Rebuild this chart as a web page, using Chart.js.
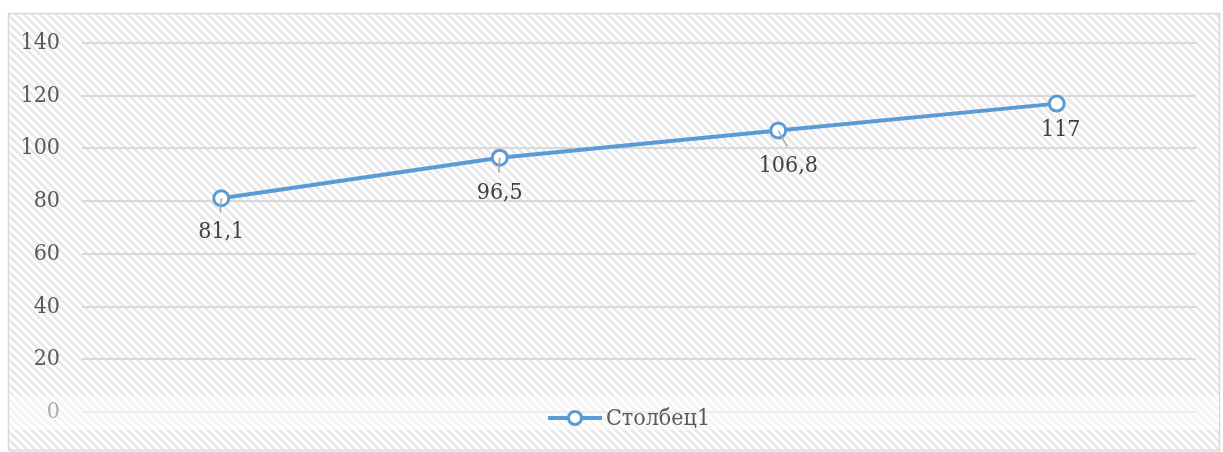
<!DOCTYPE html>
<html>
<head>
<meta charset="utf-8">
<script src="https://cdn.jsdelivr.net/npm/chart.js@4.4.1/dist/chart.umd.min.js"></script>
<style>
    html, body { margin: 0; padding: 0; background: #ffffff; }
    #wrap { width: 1223px; height: 452px; }
</style>
</head>
<body>
<div id="wrap"><canvas id="chart" width="1223" height="452"></canvas></div>
<script>
// Chart data
const categories = ['1', '2', '3', '4'];
const seriesName = 'Столбец1';
const seriesValues = [81.1, 96.5, 106.8, 117];
const valueLabels = ['81,1', '96,5', '106,8', '117'];
const yTicks = [0, 20, 40, 60, 80, 100, 120, 140];

const FONT = "'DejaVu Serif Condensed', 'Liberation Serif', serif";
const lineColor = '#5b9bd5';
const textColor = '#595959';

// label placement relative to the point (dx, dy)
const labelShift = [[0, 34], [0, 35], [10, 36], [4, 26]];

// Diagonal hatch used for the chart background
function makeHatch(ctx) {
    const c = document.createElement('canvas');
    c.width = 8;
    c.height = 8;
    const pctx = c.getContext('2d');
    const img = pctx.createImageData(8, 8);
    for (let y = 0; y < 8; y++) {
        for (let x = 0; x < 8; x++) {
            const on = (((x - y) % 8) + 8) % 8 < 4;
            const v = on ? 233 : 255;
            const i = (y * 8 + x) * 4;
            img.data[i] = v;
            img.data[i + 1] = v;
            img.data[i + 2] = v;
            img.data[i + 3] = 255;
        }
    }
    pctx.putImageData(img, 0, 0);
    return ctx.createPattern(c, 'repeat');
}

const decorPlugin = {
    id: 'decor',
    beforeDraw(chart) {
        const ctx = chart.ctx;
        ctx.save();
        ctx.fillStyle = '#ffffff';
        ctx.fillRect(0, 0, chart.width, chart.height);
        ctx.fillStyle = makeHatch(ctx);
        ctx.fillRect(8, 13, chart.width - 11, chart.height - 13);
        ctx.strokeStyle = '#d9d9d9';
        ctx.lineWidth = 1.5;
        ctx.strokeRect(8.5, 13.5, chart.width - 12, chart.height - 15);
        ctx.restore();
    },
    afterDatasetsDraw(chart) {
        const ctx = chart.ctx;
        const meta = chart.getDatasetMeta(0);
        ctx.save();
        ctx.font = '23px ' + FONT;
        ctx.fillStyle = '#404040';
        ctx.textAlign = 'center';
        ctx.textBaseline = 'middle';
        meta.data.forEach((pt, i) => {
            const lx = pt.x + labelShift[i][0];
            const ly = pt.y + labelShift[i][1];
            if (labelShift[i][1] > 30) {
                ctx.strokeStyle = '#a6a6a6';
                ctx.lineWidth = 1.5;
                ctx.beginPath();
                ctx.moveTo(pt.x, pt.y);
                ctx.lineTo(lx - 1, ly - 20);
                ctx.stroke();
            }
            ctx.fillText(valueLabels[i], lx, ly);
        });
        ctx.restore();
    },
    afterDraw(chart) {
        const ctx = chart.ctx;
        ctx.save();
        // legend band
        ctx.fillStyle = 'rgba(255,255,255,0.5)';
        ctx.fillRect(9, 395, chart.width - 13, 35);
        // legend marker
        const cx = 575, cy = 418;
        ctx.strokeStyle = lineColor;
        ctx.lineWidth = 4;
        ctx.beginPath();
        ctx.moveTo(548, cy);
        ctx.lineTo(602, cy);
        ctx.stroke();
        ctx.fillStyle = '#ffffff';
        ctx.lineWidth = 3;
        ctx.beginPath();
        ctx.arc(cx, cy, 6.5, 0, Math.PI * 2);
        ctx.fill();
        ctx.stroke();
        // legend text
        ctx.font = '23px ' + FONT;
        ctx.fillStyle = textColor;
        ctx.textAlign = 'left';
        ctx.textBaseline = 'middle';
        ctx.fillText(seriesName, 606, cy + 1);
        ctx.restore();
    }
};

new Chart(document.getElementById('chart'), {
    type: 'line',
    data: {
        labels: categories,
        datasets: [{
            label: seriesName,
            data: seriesValues,
            borderColor: lineColor,
            backgroundColor: '#ffffff',
            borderWidth: 4,
            tension: 0,
            pointRadius: 7.5,
            pointBorderWidth: 3,
            pointBackgroundColor: '#ffffff',
            pointBorderColor: lineColor
        }]
    },
    options: {
        responsive: false,
        animation: false,
        layout: {
            padding: { left: 8, right: 27, top: 43, bottom: 40 }
        },
        plugins: {
            legend: { display: false },
            tooltip: { enabled: false }
        },
        scales: {
            x: {
                display: false,
                offset: true,
                grid: { display: false }
            },
            y: {
                min: 0,
                max: 140,
                afterFit: s => { s.width = 74; },
                afterBuildTicks: s => { s.ticks = yTicks.map(v => ({ value: v })); },
                border: { display: false },
                grid: {
                    color: '#d9d9d9',
                    lineWidth: 2,
                    drawTicks: false
                },
                ticks: {
                    padding: 22,
                    color: textColor,
                    font: { family: FONT, size: 23 }
                }
            }
        }
    },
    plugins: [decorPlugin]
});
</script>
</body>
</html>
